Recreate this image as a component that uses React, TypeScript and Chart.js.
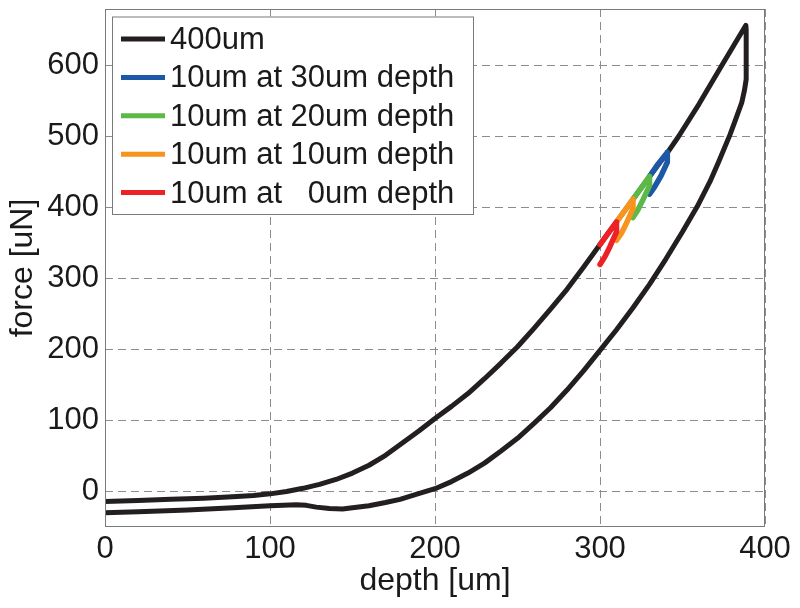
import React, { useEffect, useRef } from 'react';
import { Chart, registerables } from 'chart.js';

Chart.register(...registerables);

// ---- tick labels ----
const xTicks = [0, 100, 200, 300, 400];
const yTicks = [0, 100, 200, 300, 400, 500, 600];
const xRange = [0, 400];
const yRange = [-50, 680];

// ---- series ----
const seriesLabels = [
  '400um',
  '10um at 30um depth',
  '10um at 20um depth',
  '10um at 10um depth',
  '10um at   0um depth',
];
const seriesColors = ['#231f20', '#1d58a7', '#5cb947', '#f7941e', '#ec2227'];

// 400um: loading branch, vertical drop, unloading branch
const depth400 = [
  0, 20, 40, 60, 80, 90, 100, 110, 120, 130, 140, 150, 160, 170, 180, 190, 200, 210, 220, 230,
  240, 250, 260, 270, 280, 290, 300, 310, 320, 330, 341, 347.5, 360, 373.7, 388.4,
  388.6, 388.6, 387.6, 385.9, 382, 378.8, 372, 366.7, 359, 350, 340, 330, 320, 310, 300, 290,
  280, 270, 260, 250, 240, 230, 220, 210, 200, 190, 178.8, 170, 160, 150, 144, 136, 128, 122,
  116, 100, 77.8, 50, 37.4, 20, 0,
];
const force400 = [
  -14, -12.5, -11, -9.5, -7, -5.5, -3.3, 0, 4.5, 10, 17, 26, 37, 51, 68, 85, 103, 120, 138, 159,
  181, 204, 230, 257, 285, 316, 348, 380, 412, 444, 478, 500, 546, 600, 657,
  650, 581, 566, 548, 523, 503, 465, 437, 402, 366, 328, 292, 259, 228, 199, 170,
  143, 118, 96, 75, 57, 40, 26, 14, 4, -3, -11, -15.5, -20, -23, -24.5, -24, -22, -19.5,
  -18.5, -20, -23, -26, -27, -28.5, -30,
];

// 10um loops
const depth30 = [330, 335, 340.8, 340.8, 337, 333, 330];
const force30 = [444, 461, 478, 464, 445, 429, 419];
const depth20 = [320, 325, 330, 330, 326, 323, 320];
const force20 = [412, 428, 444, 431, 411, 397, 386];
const depth10 = [310, 315, 320, 320, 316, 313, 310];
const force10 = [380, 396, 412, 399, 378, 364, 354];
const depth0 = [300, 305, 310, 310, 306, 303, 300];
const force0 = [348, 364, 380, 366, 345, 331, 320];

const seriesDepths = [depth400, depth30, depth20, depth10, depth0];
const seriesForces = [force400, force30, force20, force10, force0];

const FONT = "'Liberation Sans', Arial, Helvetica, sans-serif";
const TEXT = '#1a1a1a';

const framePlugin = {
  id: 'frame',
  afterDatasetsDraw(chart: any) {
    const { ctx, chartArea: a } = chart;
    ctx.save();
    ctx.strokeStyle = '#7a7a7a';
    ctx.lineWidth = 1;
    ctx.setLineDash([]);
    ctx.strokeRect(a.left + 0.5, a.top + 0.5, a.right - a.left - 1, a.bottom - a.top - 1);
    ctx.restore();
  },
};

const legendPlugin = {
  id: 'insideLegend',
  afterDraw(chart: any) {
    const { ctx } = chart;
    const ds = chart.data.datasets;
    const x0 = 112;
    const y0 = 16.5;
    const w = 361;
    const h = 197.5;
    ctx.save();
    ctx.fillStyle = '#ffffff';
    ctx.fillRect(x0, y0, w, h);
    ctx.strokeStyle = '#7a7a7a';
    ctx.lineWidth = 1;
    ctx.strokeRect(x0 + 0.5, y0 + 0.5, w, h);
    ctx.font = `31px ${FONT}`;
    ctx.textBaseline = 'middle';
    ctx.textAlign = 'left';
    for (let i = 0; i < ds.length; i++) {
      const y = 39 + i * 38.4;
      ctx.strokeStyle = ds[i].borderColor;
      ctx.lineWidth = 5;
      ctx.lineCap = 'butt';
      ctx.beginPath();
      ctx.moveTo(121, y);
      ctx.lineTo(165, y);
      ctx.stroke();
      ctx.fillStyle = TEXT;
      ctx.fillText(ds[i].label, 170, y + 1.5);
    }
    ctx.restore();
  },
};

export default function App() {
  const ref = useRef<HTMLCanvasElement | null>(null);

  useEffect(() => {
    if (!ref.current) return;
    const order = [5, 4, 3, 2, 1];
    const datasets = seriesLabels.map((label, i) => ({
      label,
      data: seriesDepths[i].map((x, j) => ({ x, y: seriesForces[i][j] })),
      borderColor: seriesColors[i],
      backgroundColor: seriesColors[i],
      borderWidth: i === 0 ? 5 : 5.5,
      pointRadius: 0,
      showLine: true,
      fill: false,
      tension: 0,
      borderJoinStyle: 'round' as const,
      borderCapStyle: 'round' as const,
      clip: 0,
      order: order[i],
    }));

    const chart = new Chart(ref.current, {
      type: 'scatter',
      data: { datasets },
      options: {
        responsive: false,
        animation: false,
        devicePixelRatio: 1,
        layout: { autoPadding: false, padding: { top: 9, right: 35, left: 0, bottom: 0 } },
        plugins: {
          legend: { display: false },
          tooltip: { enabled: false },
        },
        scales: {
          x: {
            type: 'linear',
            min: xRange[0],
            max: xRange[1],
            afterBuildTicks: (s: any) => {
              s.ticks = xTicks.map((v) => ({ value: v }));
            },
            afterFit: (s: any) => {
              s.height = 81;
              s.paddingLeft = 0;
              s.paddingRight = 0;
              s.paddingTop = 0;
              s.paddingBottom = 0;
            },
            grid: { color: '#8c8c8c', lineWidth: 1, drawTicks: false },
            border: { display: false, dash: [8, 5] },
            ticks: {
              padding: 4,
              color: TEXT,
              font: { family: FONT, size: 31 },
              maxRotation: 0,
              autoSkip: false,
            },
            title: {
              display: true,
              text: 'depth [um]',
              color: TEXT,
              font: { family: FONT, size: 32 },
              padding: { top: 0, bottom: 8 },
            },
          },
          y: {
            type: 'linear',
            min: yRange[0],
            max: yRange[1],
            afterBuildTicks: (s: any) => {
              s.ticks = yTicks.map((v) => ({ value: v }));
            },
            afterFit: (s: any) => {
              s.width = 105;
              s.paddingLeft = 0;
              s.paddingRight = 0;
              s.paddingTop = 0;
              s.paddingBottom = 0;
            },
            grid: { color: '#8c8c8c', lineWidth: 1, drawTicks: false },
            border: { display: false, dash: [8, 5] },
            ticks: {
              padding: 6,
              color: TEXT,
              font: { family: FONT, size: 31 },
              autoSkip: false,
            },
            title: {
              display: true,
              text: 'force [uN]',
              color: TEXT,
              font: { family: FONT, size: 32 },
              padding: { top: 4, bottom: 0 },
            },
          },
        },
      },
      plugins: [framePlugin, legendPlugin],
    });
    return () => chart.destroy();
  }, []);

  return (
    <div style={{ position: 'fixed', left: 0, top: 0, width: 800, height: 608, background: '#fff' }}>
      <canvas ref={ref} width={800} height={608} style={{ display: 'block' }} />
    </div>
  );
}
